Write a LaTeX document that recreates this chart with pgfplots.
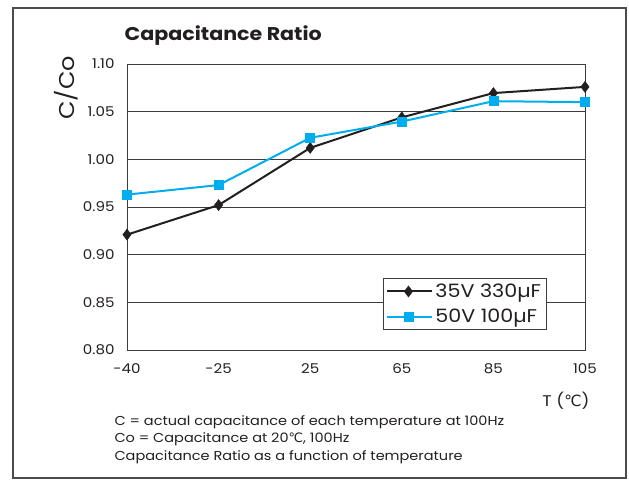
\documentclass[border=0pt]{standalone}
\usepackage{pgfplots}
\pgfplotsset{compat=1.18}
\usepackage{fontspec}
\setmainfont{Poppins}[FakeStretch=1.12]
\newfontfamily\dejavu{DejaVu Sans}
\definecolor{cblue}{RGB}{0,174,239}
\definecolor{cblack}{RGB}{35,31,32}
\definecolor{cgrid}{RGB}{60,60,60}
\begin{document}
\begin{tikzpicture}
\useasboundingbox (0bp,0bp) rectangle (629bp,-480bp);
\draw[line width=2bp, color=black!70] (13bp,-8bp) rectangle (626bp,-478bp);
\begin{axis}[
  at={(127bp,-350bp)}, anchor=south west,
  scale only axis, width=458bp, height=286bp,
  xmin=0, xmax=5, ymin=0.8, ymax=1.1,
  xtick={0,1,2,3,4,5}, xticklabels={-40,-25,25,65,85,105},
  ytick={0.80,0.85,0.90,0.95,1.00,1.05,1.10},
  yticklabel style={/pgf/number format/fixed,/pgf/number format/fixed zerofill,/pgf/number format/precision=2},
  /pgf/number format/assume math mode=true,
  ymajorgrids, grid style={cgrid, line width=0.9bp},
  axis line style={cgrid, line width=0.9bp},
  tick style={draw=none},
  ticklabel style={font=\fontsize{13.5}{13.5}\selectfont, text=cblack},
  xticklabel style={yshift=-10bp},
  yticklabel style={xshift=-9bp},
  clip=false,
  legend style={at={(0.559,0.07)}, anchor=south west, draw=cgrid, line width=0.9bp,
    fill=white, font=\fontsize{18.5}{18.5}\selectfont, inner xsep=3bp, inner ysep=3.5bp,
    row sep=6bp, text=cblack},
  legend cell align=left,
  legend image code/.code={\path (-4bp,0bp) -- (41bp,0bp); \draw[#1] (0bp,0bp) -- (34bp,0bp); \draw[#1, only marks] plot coordinates {(17bp,0bp)};},
]
\addplot[cblack, line width=2bp, mark=diamond*, mark size=5.5bp, mark options={fill=cblack, draw=cblack, line width=0.5bp}]
  coordinates {(0,0.921) (1,0.952) (2,1.012) (3,1.044) (4,1.0695) (5,1.076)};
\addlegendentry{35V 330µF}
\addplot[cblue, line width=2bp, mark=square*, mark size=4.5bp, mark options={fill=cblue, draw=cblue, line width=0.5bp}]
  coordinates {(0,0.963) (1,0.973) (2,1.0226) (3,1.0396) (4,1.061) (5,1.060)};
\addlegendentry{50V 100µF}
\end{axis}
\node[anchor=west, font=\fontsize{18.5}{18.5}\selectfont\bfseries, text=cblack] at (121bp,-36bp) {Capacitance Ratio};
\node[anchor=center, rotate=90, font=\fontsize{21.5}{21.5}\selectfont, text=cblack] at (66bp,-88bp) {C/Co};
\node[anchor=center, font=\fontsize{15.5}{15.5}\selectfont, text=cblack] at (566bp,-401bp) {T ({\dejavu ℃})};
\node[anchor=north west, align=left, font=\fontsize{13}{17.5}\selectfont, text=cblack] at (111bp,-412bp)
  {C = actual capacitance of each temperature at 100Hz\\Co = Capacitance at 20{\dejavu ℃}, 100Hz\\Capacitance Ratio as a function of temperature};
\end{tikzpicture}
\end{document}
